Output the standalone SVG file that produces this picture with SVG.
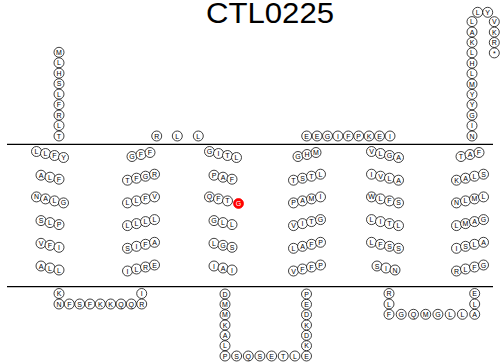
<svg xmlns="http://www.w3.org/2000/svg" width="500" height="364" viewBox="0 0 500 364">
<style>
.r circle{fill:#fff;stroke:#000;stroke-width:0.75}
.r text{font-family:"Liberation Sans",Arial,sans-serif;font-size:7px;text-anchor:middle;fill:#000}
.hl circle{fill:#f00;stroke:#f00}
.hl text{fill:#fff}
.mem{stroke:#000;stroke-width:1.2}
.title{font-family:"Liberation Sans",Arial,sans-serif;font-size:30px;text-anchor:middle;fill:#000}
</style>
<rect width="500" height="364" fill="#fff"/>
<text class="title" x="270" y="23" textLength="128" lengthAdjust="spacingAndGlyphs">CTL0225</text>
<g id="membrane">
<line class="mem" x1="7" y1="144.3" x2="493" y2="144.3"/>
<line class="mem" x1="7" y1="286.7" x2="493" y2="286.7"/>
</g>
<g id="connectors"/>
<!-- N-terminus -->
<g id="n1" class="r"><circle cx="59" cy="52.3" r="5"/><text x="59" y="54.8">M</text></g>
<g id="n2" class="r"><circle cx="59" cy="62.8" r="5"/><text x="59" y="65.3">L</text></g>
<g id="n3" class="r"><circle cx="59" cy="73.2" r="5"/><text x="59" y="75.7">H</text></g>
<g id="n4" class="r"><circle cx="59" cy="83.7" r="5"/><text x="59" y="86.2">S</text></g>
<g id="n5" class="r"><circle cx="59" cy="94.1" r="5"/><text x="59" y="96.6">L</text></g>
<g id="n6" class="r"><circle cx="59" cy="104.6" r="5"/><text x="59" y="107.1">F</text></g>
<g id="n7" class="r"><circle cx="59" cy="115.1" r="5"/><text x="59" y="117.6">R</text></g>
<g id="n8" class="r"><circle cx="59" cy="125.5" r="5"/><text x="59" y="128">L</text></g>
<g id="n9" class="r"><circle cx="59" cy="136" r="5"/><text x="59" y="138.5">T</text></g>
<!-- Helix 1 -->
<g id="h1_1" class="r"><circle cx="36.5" cy="151.5" r="5"/><text x="36.5" y="154">L</text></g>
<g id="h1_2" class="r"><circle cx="45.5" cy="153.5" r="5"/><text x="45.5" y="156">L</text></g>
<g id="h1_3" class="r"><circle cx="54.5" cy="155.5" r="5"/><text x="54.5" y="158">F</text></g>
<g id="h1_4" class="r"><circle cx="63.5" cy="157.5" r="5"/><text x="63.5" y="160">Y</text></g>
<g id="h1_5" class="r"><circle cx="41" cy="175.2" r="5"/><text x="41" y="177.7">A</text></g>
<g id="h1_6" class="r"><circle cx="50" cy="177.2" r="5"/><text x="50" y="179.7">L</text></g>
<g id="h1_7" class="r"><circle cx="59" cy="179.2" r="5"/><text x="59" y="181.7">F</text></g>
<g id="h1_8" class="r"><circle cx="36.5" cy="196.9" r="5"/><text x="36.5" y="199.4">N</text></g>
<g id="h1_9" class="r"><circle cx="45.5" cy="198.9" r="5"/><text x="45.5" y="201.4">A</text></g>
<g id="h1_10" class="r"><circle cx="54.5" cy="200.9" r="5"/><text x="54.5" y="203.4">L</text></g>
<g id="h1_11" class="r"><circle cx="63.5" cy="202.9" r="5"/><text x="63.5" y="205.4">G</text></g>
<g id="h1_12" class="r"><circle cx="41" cy="220.6" r="5"/><text x="41" y="223.1">S</text></g>
<g id="h1_13" class="r"><circle cx="50" cy="222.6" r="5"/><text x="50" y="225.1">L</text></g>
<g id="h1_14" class="r"><circle cx="59" cy="224.6" r="5"/><text x="59" y="227.1">P</text></g>
<g id="h1_15" class="r"><circle cx="41" cy="243.3" r="5"/><text x="41" y="245.8">V</text></g>
<g id="h1_16" class="r"><circle cx="50" cy="245.3" r="5"/><text x="50" y="247.8">F</text></g>
<g id="h1_17" class="r"><circle cx="59" cy="247.3" r="5"/><text x="59" y="249.8">I</text></g>
<g id="h1_18" class="r"><circle cx="41" cy="266" r="5"/><text x="41" y="268.5">A</text></g>
<g id="h1_19" class="r"><circle cx="50" cy="268" r="5"/><text x="50" y="270.5">L</text></g>
<g id="h1_20" class="r"><circle cx="59" cy="270" r="5"/><text x="59" y="272.5">L</text></g>
<!-- Loop 1 (inside) -->
<g id="l1_1" class="r"><circle cx="59" cy="293.5" r="5"/><text x="59" y="296">K</text></g>
<g id="l1_2" class="r"><circle cx="59" cy="304" r="5"/><text x="59" y="306.5">N</text></g>
<g id="l1_3" class="r"><circle cx="69.3" cy="304" r="5"/><text x="69.3" y="306.5">F</text></g>
<g id="l1_4" class="r"><circle cx="79.7" cy="304" r="5"/><text x="79.7" y="306.5">S</text></g>
<g id="l1_5" class="r"><circle cx="90" cy="304" r="5"/><text x="90" y="306.5">F</text></g>
<g id="l1_6" class="r"><circle cx="100.3" cy="304" r="5"/><text x="100.3" y="306.5">K</text></g>
<g id="l1_7" class="r"><circle cx="110.7" cy="304" r="5"/><text x="110.7" y="306.5">K</text></g>
<g id="l1_8" class="r"><circle cx="121" cy="304" r="5"/><text x="121" y="306.5">Q</text></g>
<g id="l1_9" class="r"><circle cx="131.3" cy="304" r="5"/><text x="131.3" y="306.5">Q</text></g>
<g id="l1_10" class="r"><circle cx="141.7" cy="304" r="5"/><text x="141.7" y="306.5">R</text></g>
<g id="l1_11" class="r"><circle cx="141.7" cy="293.5" r="5"/><text x="141.7" y="296">I</text></g>
<!-- Helix 2 -->
<g id="h2_1" class="r"><circle cx="132" cy="156.5" r="5"/><text x="132" y="159">G</text></g>
<g id="h2_2" class="r"><circle cx="141" cy="154.5" r="5"/><text x="141" y="157">F</text></g>
<g id="h2_3" class="r"><circle cx="150" cy="152.5" r="5"/><text x="150" y="155">F</text></g>
<g id="h2_4" class="r"><circle cx="127.5" cy="180.2" r="5"/><text x="127.5" y="182.7">T</text></g>
<g id="h2_5" class="r"><circle cx="136.5" cy="178.2" r="5"/><text x="136.5" y="180.7">F</text></g>
<g id="h2_6" class="r"><circle cx="145.5" cy="176.2" r="5"/><text x="145.5" y="178.7">G</text></g>
<g id="h2_7" class="r"><circle cx="154.5" cy="174.2" r="5"/><text x="154.5" y="176.7">R</text></g>
<g id="h2_8" class="r"><circle cx="127.5" cy="202.9" r="5"/><text x="127.5" y="205.4">L</text></g>
<g id="h2_9" class="r"><circle cx="136.5" cy="200.9" r="5"/><text x="136.5" y="203.4">L</text></g>
<g id="h2_10" class="r"><circle cx="145.5" cy="198.9" r="5"/><text x="145.5" y="201.4">F</text></g>
<g id="h2_11" class="r"><circle cx="154.5" cy="196.9" r="5"/><text x="154.5" y="199.4">V</text></g>
<g id="h2_12" class="r"><circle cx="127.5" cy="225.6" r="5"/><text x="127.5" y="228.1">L</text></g>
<g id="h2_13" class="r"><circle cx="136.5" cy="223.6" r="5"/><text x="136.5" y="226.1">L</text></g>
<g id="h2_14" class="r"><circle cx="145.5" cy="221.6" r="5"/><text x="145.5" y="224.1">L</text></g>
<g id="h2_15" class="r"><circle cx="154.5" cy="219.6" r="5"/><text x="154.5" y="222.1">L</text></g>
<g id="h2_16" class="r"><circle cx="127.5" cy="248.3" r="5"/><text x="127.5" y="250.8">S</text></g>
<g id="h2_17" class="r"><circle cx="136.5" cy="246.3" r="5"/><text x="136.5" y="248.8">I</text></g>
<g id="h2_18" class="r"><circle cx="145.5" cy="244.3" r="5"/><text x="145.5" y="246.8">F</text></g>
<g id="h2_19" class="r"><circle cx="154.5" cy="242.3" r="5"/><text x="154.5" y="244.8">A</text></g>
<g id="h2_20" class="r"><circle cx="127.5" cy="271" r="5"/><text x="127.5" y="273.5">I</text></g>
<g id="h2_21" class="r"><circle cx="136.5" cy="269" r="5"/><text x="136.5" y="271.5">L</text></g>
<g id="h2_22" class="r"><circle cx="145.5" cy="267" r="5"/><text x="145.5" y="269.5">R</text></g>
<g id="h2_23" class="r"><circle cx="154.5" cy="265" r="5"/><text x="154.5" y="267.5">E</text></g>
<!-- Loop 2 (outside) -->
<g id="l2_1" class="r"><circle cx="156.7" cy="136" r="5"/><text x="156.7" y="138.5">R</text></g>
<g id="l2_2" class="r"><circle cx="177.3" cy="136" r="5"/><text x="177.3" y="138.5">L</text></g>
<g id="l2_3" class="r"><circle cx="198.3" cy="136" r="5"/><text x="198.3" y="138.5">L</text></g>
<!-- Helix 3 -->
<g id="h3_1" class="r"><circle cx="209.5" cy="151.5" r="5"/><text x="209.5" y="154">G</text></g>
<g id="h3_2" class="r"><circle cx="218.5" cy="153.5" r="5"/><text x="218.5" y="156">I</text></g>
<g id="h3_3" class="r"><circle cx="227.5" cy="155.5" r="5"/><text x="227.5" y="158">T</text></g>
<g id="h3_4" class="r"><circle cx="236.5" cy="157.5" r="5"/><text x="236.5" y="160">L</text></g>
<g id="h3_5" class="r"><circle cx="214" cy="175.2" r="5"/><text x="214" y="177.7">P</text></g>
<g id="h3_6" class="r"><circle cx="223" cy="177.2" r="5"/><text x="223" y="179.7">A</text></g>
<g id="h3_7" class="r"><circle cx="232" cy="179.2" r="5"/><text x="232" y="181.7">F</text></g>
<g id="h3_8" class="r"><circle cx="209.5" cy="196.9" r="5"/><text x="209.5" y="199.4">Q</text></g>
<g id="h3_9" class="r"><circle cx="218.5" cy="198.9" r="5"/><text x="218.5" y="201.4">F</text></g>
<g id="h3_10" class="r"><circle cx="227.5" cy="200.9" r="5"/><text x="227.5" y="203.4">T</text></g>
<g id="h3_11" class="r hl"><circle cx="238.5" cy="203.5" r="5"/><text x="238.5" y="206">G</text></g>
<g id="h3_12" class="r"><circle cx="214" cy="220.6" r="5"/><text x="214" y="223.1">G</text></g>
<g id="h3_13" class="r"><circle cx="223" cy="222.6" r="5"/><text x="223" y="225.1">L</text></g>
<g id="h3_14" class="r"><circle cx="232" cy="224.6" r="5"/><text x="232" y="227.1">L</text></g>
<g id="h3_15" class="r"><circle cx="214" cy="243.3" r="5"/><text x="214" y="245.8">L</text></g>
<g id="h3_16" class="r"><circle cx="223" cy="245.3" r="5"/><text x="223" y="247.8">G</text></g>
<g id="h3_17" class="r"><circle cx="232" cy="247.3" r="5"/><text x="232" y="249.8">S</text></g>
<g id="h3_18" class="r"><circle cx="214" cy="266" r="5"/><text x="214" y="268.5">I</text></g>
<g id="h3_19" class="r"><circle cx="223" cy="268" r="5"/><text x="223" y="270.5">A</text></g>
<g id="h3_20" class="r"><circle cx="232" cy="270" r="5"/><text x="232" y="272.5">I</text></g>
<!-- Loop 3 (inside) -->
<g id="l3_1" class="r"><circle cx="225" cy="294" r="5"/><text x="225" y="296.5">D</text></g>
<g id="l3_2" class="r"><circle cx="225" cy="304.3" r="5"/><text x="225" y="306.8">M</text></g>
<g id="l3_3" class="r"><circle cx="225" cy="314.7" r="5"/><text x="225" y="317.2">M</text></g>
<g id="l3_4" class="r"><circle cx="225" cy="325" r="5"/><text x="225" y="327.5">K</text></g>
<g id="l3_5" class="r"><circle cx="225" cy="335.3" r="5"/><text x="225" y="337.8">A</text></g>
<g id="l3_6" class="r"><circle cx="225" cy="345.7" r="5"/><text x="225" y="348.2">L</text></g>
<g id="l3_7" class="r"><circle cx="225" cy="356" r="5"/><text x="225" y="358.5">P</text></g>
<g id="l3_8" class="r"><circle cx="236.6" cy="356" r="5"/><text x="236.6" y="358.5">S</text></g>
<g id="l3_9" class="r"><circle cx="248.3" cy="356" r="5"/><text x="248.3" y="358.5">Q</text></g>
<g id="l3_10" class="r"><circle cx="259.9" cy="356" r="5"/><text x="259.9" y="358.5">S</text></g>
<g id="l3_11" class="r"><circle cx="271.6" cy="356" r="5"/><text x="271.6" y="358.5">E</text></g>
<g id="l3_12" class="r"><circle cx="283.2" cy="356" r="5"/><text x="283.2" y="358.5">T</text></g>
<g id="l3_13" class="r"><circle cx="294.9" cy="356" r="5"/><text x="294.9" y="358.5">L</text></g>
<g id="l3_14" class="r"><circle cx="306.5" cy="356" r="5"/><text x="306.5" y="358.5">E</text></g>
<g id="l3_15" class="r"><circle cx="306.5" cy="345.7" r="5"/><text x="306.5" y="348.2">K</text></g>
<g id="l3_16" class="r"><circle cx="306.5" cy="335.3" r="5"/><text x="306.5" y="337.8">D</text></g>
<g id="l3_17" class="r"><circle cx="306.5" cy="325" r="5"/><text x="306.5" y="327.5">K</text></g>
<g id="l3_18" class="r"><circle cx="306.5" cy="314.7" r="5"/><text x="306.5" y="317.2">D</text></g>
<g id="l3_19" class="r"><circle cx="306.5" cy="304.3" r="5"/><text x="306.5" y="306.8">E</text></g>
<g id="l3_20" class="r"><circle cx="306.5" cy="294" r="5"/><text x="306.5" y="296.5">P</text></g>
<!-- Helix 4 -->
<g id="h4_1" class="r"><circle cx="298" cy="156.5" r="5"/><text x="298" y="159">G</text></g>
<g id="h4_2" class="r"><circle cx="307" cy="154.5" r="5"/><text x="307" y="157">H</text></g>
<g id="h4_3" class="r"><circle cx="316" cy="152.5" r="5"/><text x="316" y="155">M</text></g>
<g id="h4_4" class="r"><circle cx="293.5" cy="180.2" r="5"/><text x="293.5" y="182.7">T</text></g>
<g id="h4_5" class="r"><circle cx="302.5" cy="178.2" r="5"/><text x="302.5" y="180.7">S</text></g>
<g id="h4_6" class="r"><circle cx="311.5" cy="176.2" r="5"/><text x="311.5" y="178.7">T</text></g>
<g id="h4_7" class="r"><circle cx="320.5" cy="174.2" r="5"/><text x="320.5" y="176.7">L</text></g>
<g id="h4_8" class="r"><circle cx="293.5" cy="202.9" r="5"/><text x="293.5" y="205.4">P</text></g>
<g id="h4_9" class="r"><circle cx="302.5" cy="200.9" r="5"/><text x="302.5" y="203.4">A</text></g>
<g id="h4_10" class="r"><circle cx="311.5" cy="198.9" r="5"/><text x="311.5" y="201.4">M</text></g>
<g id="h4_11" class="r"><circle cx="320.5" cy="196.9" r="5"/><text x="320.5" y="199.4">I</text></g>
<g id="h4_12" class="r"><circle cx="293.5" cy="225.6" r="5"/><text x="293.5" y="228.1">V</text></g>
<g id="h4_13" class="r"><circle cx="302.5" cy="223.6" r="5"/><text x="302.5" y="226.1">I</text></g>
<g id="h4_14" class="r"><circle cx="311.5" cy="221.6" r="5"/><text x="311.5" y="224.1">T</text></g>
<g id="h4_15" class="r"><circle cx="320.5" cy="219.6" r="5"/><text x="320.5" y="222.1">G</text></g>
<g id="h4_16" class="r"><circle cx="293.5" cy="248.3" r="5"/><text x="293.5" y="250.8">L</text></g>
<g id="h4_17" class="r"><circle cx="302.5" cy="246.3" r="5"/><text x="302.5" y="248.8">A</text></g>
<g id="h4_18" class="r"><circle cx="311.5" cy="244.3" r="5"/><text x="311.5" y="246.8">F</text></g>
<g id="h4_19" class="r"><circle cx="320.5" cy="242.3" r="5"/><text x="320.5" y="244.8">P</text></g>
<g id="h4_20" class="r"><circle cx="293.5" cy="271" r="5"/><text x="293.5" y="273.5">V</text></g>
<g id="h4_21" class="r"><circle cx="302.5" cy="269" r="5"/><text x="302.5" y="271.5">F</text></g>
<g id="h4_22" class="r"><circle cx="311.5" cy="267" r="5"/><text x="311.5" y="269.5">F</text></g>
<g id="h4_23" class="r"><circle cx="320.5" cy="265" r="5"/><text x="320.5" y="267.5">P</text></g>
<!-- Loop 4 (outside) -->
<g id="l4_1" class="r"><circle cx="306.7" cy="136" r="5"/><text x="306.7" y="138.5">E</text></g>
<g id="l4_2" class="r"><circle cx="317.1" cy="136" r="5"/><text x="317.1" y="138.5">E</text></g>
<g id="l4_3" class="r"><circle cx="327.5" cy="136" r="5"/><text x="327.5" y="138.5">G</text></g>
<g id="l4_4" class="r"><circle cx="337.9" cy="136" r="5"/><text x="337.9" y="138.5">I</text></g>
<g id="l4_5" class="r"><circle cx="348.3" cy="136" r="5"/><text x="348.3" y="138.5">F</text></g>
<g id="l4_6" class="r"><circle cx="358.7" cy="136" r="5"/><text x="358.7" y="138.5">P</text></g>
<g id="l4_7" class="r"><circle cx="369.1" cy="136" r="5"/><text x="369.1" y="138.5">K</text></g>
<g id="l4_8" class="r"><circle cx="379.5" cy="136" r="5"/><text x="379.5" y="138.5">E</text></g>
<g id="l4_9" class="r"><circle cx="390" cy="136" r="5"/><text x="390" y="138.5">I</text></g>
<!-- Helix 5 -->
<g id="h5_1" class="r"><circle cx="371.5" cy="151.5" r="5"/><text x="371.5" y="154">V</text></g>
<g id="h5_2" class="r"><circle cx="380.5" cy="153.5" r="5"/><text x="380.5" y="156">L</text></g>
<g id="h5_3" class="r"><circle cx="389.5" cy="155.5" r="5"/><text x="389.5" y="158">G</text></g>
<g id="h5_4" class="r"><circle cx="398.5" cy="157.5" r="5"/><text x="398.5" y="160">A</text></g>
<g id="h5_5" class="r"><circle cx="371.5" cy="174.2" r="5"/><text x="371.5" y="176.7">I</text></g>
<g id="h5_6" class="r"><circle cx="380.5" cy="176.2" r="5"/><text x="380.5" y="178.7">V</text></g>
<g id="h5_7" class="r"><circle cx="389.5" cy="178.2" r="5"/><text x="389.5" y="180.7">L</text></g>
<g id="h5_8" class="r"><circle cx="398.5" cy="180.2" r="5"/><text x="398.5" y="182.7">A</text></g>
<g id="h5_9" class="r"><circle cx="371.5" cy="196.9" r="5"/><text x="371.5" y="199.4">W</text></g>
<g id="h5_10" class="r"><circle cx="380.5" cy="198.9" r="5"/><text x="380.5" y="201.4">L</text></g>
<g id="h5_11" class="r"><circle cx="389.5" cy="200.9" r="5"/><text x="389.5" y="203.4">F</text></g>
<g id="h5_12" class="r"><circle cx="398.5" cy="202.9" r="5"/><text x="398.5" y="205.4">S</text></g>
<g id="h5_13" class="r"><circle cx="371.5" cy="219.6" r="5"/><text x="371.5" y="222.1">L</text></g>
<g id="h5_14" class="r"><circle cx="380.5" cy="221.6" r="5"/><text x="380.5" y="224.1">I</text></g>
<g id="h5_15" class="r"><circle cx="389.5" cy="223.6" r="5"/><text x="389.5" y="226.1">T</text></g>
<g id="h5_16" class="r"><circle cx="398.5" cy="225.6" r="5"/><text x="398.5" y="228.1">L</text></g>
<g id="h5_17" class="r"><circle cx="371.5" cy="242.3" r="5"/><text x="371.5" y="244.8">L</text></g>
<g id="h5_18" class="r"><circle cx="380.5" cy="244.3" r="5"/><text x="380.5" y="246.8">F</text></g>
<g id="h5_19" class="r"><circle cx="389.5" cy="246.3" r="5"/><text x="389.5" y="248.8">S</text></g>
<g id="h5_20" class="r"><circle cx="398.5" cy="248.3" r="5"/><text x="398.5" y="250.8">S</text></g>
<g id="h5_21" class="r"><circle cx="377" cy="266" r="5"/><text x="377" y="268.5">S</text></g>
<g id="h5_22" class="r"><circle cx="386" cy="268" r="5"/><text x="386" y="270.5">I</text></g>
<g id="h5_23" class="r"><circle cx="395" cy="270" r="5"/><text x="395" y="272.5">N</text></g>
<!-- Loop 5 (inside) -->
<g id="l5_1" class="r"><circle cx="389" cy="293.5" r="5"/><text x="389" y="296">R</text></g>
<g id="l5_2" class="r"><circle cx="389" cy="304" r="5"/><text x="389" y="306.5">L</text></g>
<g id="l5_3" class="r"><circle cx="389" cy="314.3" r="5"/><text x="389" y="316.8">F</text></g>
<g id="l5_4" class="r"><circle cx="401.2" cy="314.3" r="5"/><text x="401.2" y="316.8">G</text></g>
<g id="l5_5" class="r"><circle cx="413.5" cy="314.3" r="5"/><text x="413.5" y="316.8">Q</text></g>
<g id="l5_6" class="r"><circle cx="425.7" cy="314.3" r="5"/><text x="425.7" y="316.8">M</text></g>
<g id="l5_7" class="r"><circle cx="437.9" cy="314.3" r="5"/><text x="437.9" y="316.8">G</text></g>
<g id="l5_8" class="r"><circle cx="450.2" cy="314.3" r="5"/><text x="450.2" y="316.8">L</text></g>
<g id="l5_9" class="r"><circle cx="462.4" cy="314.3" r="5"/><text x="462.4" y="316.8">L</text></g>
<g id="l5_10" class="r"><circle cx="474.7" cy="314.3" r="5"/><text x="474.7" y="316.8">A</text></g>
<g id="l5_11" class="r"><circle cx="474.7" cy="304" r="5"/><text x="474.7" y="306.5">L</text></g>
<g id="l5_12" class="r"><circle cx="474.7" cy="293.5" r="5"/><text x="474.7" y="296">E</text></g>
<!-- Helix 6 -->
<g id="h6_1" class="r"><circle cx="461" cy="156.5" r="5"/><text x="461" y="159">T</text></g>
<g id="h6_2" class="r"><circle cx="470" cy="154.5" r="5"/><text x="470" y="157">A</text></g>
<g id="h6_3" class="r"><circle cx="479" cy="152.5" r="5"/><text x="479" y="155">F</text></g>
<g id="h6_4" class="r"><circle cx="456.5" cy="180.2" r="5"/><text x="456.5" y="182.7">K</text></g>
<g id="h6_5" class="r"><circle cx="465.5" cy="178.2" r="5"/><text x="465.5" y="180.7">A</text></g>
<g id="h6_6" class="r"><circle cx="474.5" cy="176.2" r="5"/><text x="474.5" y="178.7">L</text></g>
<g id="h6_7" class="r"><circle cx="483.5" cy="174.2" r="5"/><text x="483.5" y="176.7">S</text></g>
<g id="h6_8" class="r"><circle cx="456.5" cy="202.9" r="5"/><text x="456.5" y="205.4">N</text></g>
<g id="h6_9" class="r"><circle cx="465.5" cy="200.9" r="5"/><text x="465.5" y="203.4">L</text></g>
<g id="h6_10" class="r"><circle cx="474.5" cy="198.9" r="5"/><text x="474.5" y="201.4">M</text></g>
<g id="h6_11" class="r"><circle cx="483.5" cy="196.9" r="5"/><text x="483.5" y="199.4">L</text></g>
<g id="h6_12" class="r"><circle cx="456.5" cy="225.6" r="5"/><text x="456.5" y="228.1">L</text></g>
<g id="h6_13" class="r"><circle cx="465.5" cy="223.6" r="5"/><text x="465.5" y="226.1">M</text></g>
<g id="h6_14" class="r"><circle cx="474.5" cy="221.6" r="5"/><text x="474.5" y="224.1">A</text></g>
<g id="h6_15" class="r"><circle cx="483.5" cy="219.6" r="5"/><text x="483.5" y="222.1">G</text></g>
<g id="h6_16" class="r"><circle cx="456.5" cy="248.3" r="5"/><text x="456.5" y="250.8">I</text></g>
<g id="h6_17" class="r"><circle cx="465.5" cy="246.3" r="5"/><text x="465.5" y="248.8">S</text></g>
<g id="h6_18" class="r"><circle cx="474.5" cy="244.3" r="5"/><text x="474.5" y="246.8">L</text></g>
<g id="h6_19" class="r"><circle cx="483.5" cy="242.3" r="5"/><text x="483.5" y="244.8">A</text></g>
<g id="h6_20" class="r"><circle cx="456.5" cy="271" r="5"/><text x="456.5" y="273.5">R</text></g>
<g id="h6_21" class="r"><circle cx="465.5" cy="269" r="5"/><text x="465.5" y="271.5">L</text></g>
<g id="h6_22" class="r"><circle cx="474.5" cy="267" r="5"/><text x="474.5" y="269.5">F</text></g>
<g id="h6_23" class="r"><circle cx="483.5" cy="265" r="5"/><text x="483.5" y="267.5">G</text></g>
<!-- C-terminus -->
<g id="c1" class="r"><circle cx="472" cy="136" r="5"/><text x="472" y="138.5">N</text></g>
<g id="c2" class="r"><circle cx="472" cy="125.6" r="5"/><text x="472" y="128.1">I</text></g>
<g id="c3" class="r"><circle cx="472" cy="115.2" r="5"/><text x="472" y="117.7">G</text></g>
<g id="c4" class="r"><circle cx="472" cy="104.8" r="5"/><text x="472" y="107.3">Y</text></g>
<g id="c5" class="r"><circle cx="472" cy="94.4" r="5"/><text x="472" y="96.9">Y</text></g>
<g id="c6" class="r"><circle cx="472" cy="84" r="5"/><text x="472" y="86.5">M</text></g>
<g id="c7" class="r"><circle cx="472" cy="73.6" r="5"/><text x="472" y="76.1">L</text></g>
<g id="c8" class="r"><circle cx="472" cy="63.2" r="5"/><text x="472" y="65.7">H</text></g>
<g id="c9" class="r"><circle cx="472" cy="52.8" r="5"/><text x="472" y="55.3">L</text></g>
<g id="c10" class="r"><circle cx="472" cy="42.4" r="5"/><text x="472" y="44.9">K</text></g>
<g id="c11" class="r"><circle cx="472" cy="32" r="5"/><text x="472" y="34.5">A</text></g>
<g id="c12" class="r"><circle cx="472" cy="21.6" r="5"/><text x="472" y="24.1">L</text></g>
<g id="c13" class="r"><circle cx="477.7" cy="12.3" r="5"/><text x="477.7" y="14.8">L</text></g>
<g id="c14" class="r"><circle cx="487.7" cy="12.3" r="5"/><text x="487.7" y="14.8">Y</text></g>
<g id="c15" class="r"><circle cx="494.3" cy="21.7" r="5"/><text x="494.3" y="24.2">V</text></g>
<g id="c16" class="r"><circle cx="494.3" cy="32.1" r="5"/><text x="494.3" y="34.6">K</text></g>
<g id="c17" class="r"><circle cx="494.3" cy="42.5" r="5"/><text x="494.3" y="45">R</text></g>
<g id="c18" class="r"><circle cx="494.3" cy="52.9" r="5"/><text x="494.3" y="56.4">*</text></g>
</svg>
